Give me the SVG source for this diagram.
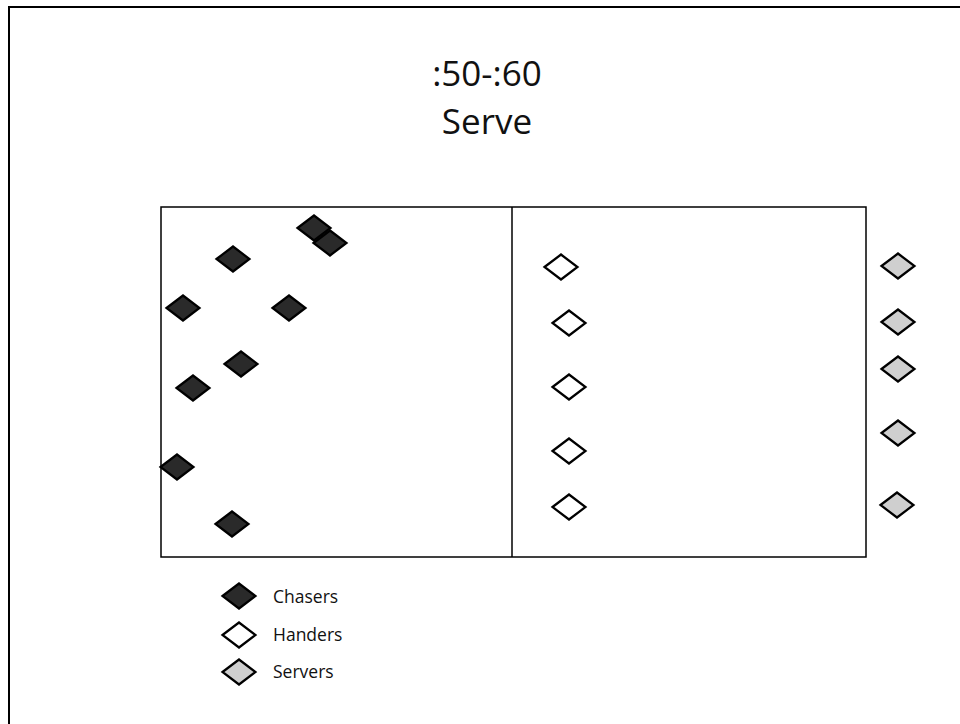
<svg xmlns="http://www.w3.org/2000/svg" width="960" height="724" viewBox="0 0 960 724">
<style>
.txt{font-family:"Open Sans","Liberation Sans",sans-serif;fill:#111}
.title{font-size:35px;text-anchor:middle}
.leg{font-size:17.5px}
.chaser{fill:#2a2a2a;stroke:#000;stroke-width:2.2}
.hander{fill:#fff;stroke:#000;stroke-width:2.2}
.server{fill:#cfcfcf;stroke:#000;stroke-width:2.2}
</style>
<defs>
<path id="dia" d="M-16.5,0 L0,-12.5 L16.5,0 L0,12.5 Z"/>
</defs>
<rect width="960" height="724" fill="#fff"/>
<g id="frame" fill="none" stroke="#000" stroke-width="2">
<path d="M9,724 L9,7 L960,7"/>
</g>
<g id="title">
<text class="txt title" x="487" y="86">:50-:60</text>
<text class="txt title" x="487" y="134">Serve</text>
</g>
<g id="court" fill="none" stroke="#000" stroke-width="1.5">
<rect x="161" y="207" width="705" height="350"/>
<line x1="512" y1="207" x2="512" y2="557"/>
</g>
<g id="chasers">
<use href="#dia" class="chaser" x="314" y="228"/>
<use href="#dia" class="chaser" x="330" y="243"/>
<use href="#dia" class="chaser" x="233" y="259"/>
<use href="#dia" class="chaser" x="183" y="308"/>
<use href="#dia" class="chaser" x="289" y="308"/>
<use href="#dia" class="chaser" x="241" y="364"/>
<use href="#dia" class="chaser" x="193" y="388"/>
<use href="#dia" class="chaser" x="177" y="467"/>
<use href="#dia" class="chaser" x="232" y="524"/>
</g>
<g id="handers">
<use href="#dia" class="hander" x="561" y="267"/>
<use href="#dia" class="hander" x="569" y="323"/>
<use href="#dia" class="hander" x="569" y="387"/>
<use href="#dia" class="hander" x="569" y="451"/>
<use href="#dia" class="hander" x="569" y="507"/>
</g>
<g id="servers">
<use href="#dia" class="server" x="898" y="266"/>
<use href="#dia" class="server" x="898" y="322"/>
<use href="#dia" class="server" x="898" y="369"/>
<use href="#dia" class="server" x="898" y="433"/>
<use href="#dia" class="server" x="897" y="505"/>
</g>
<g id="legend">
<use href="#dia" class="chaser" x="239" y="596"/>
<text class="txt leg" x="273" y="603">Chasers</text>
<use href="#dia" class="hander" x="239" y="635"/>
<text class="txt leg" x="273" y="641">Handers</text>
<use href="#dia" class="server" x="239" y="672"/>
<text class="txt leg" x="273" y="678">Servers</text>
</g>
</svg>
